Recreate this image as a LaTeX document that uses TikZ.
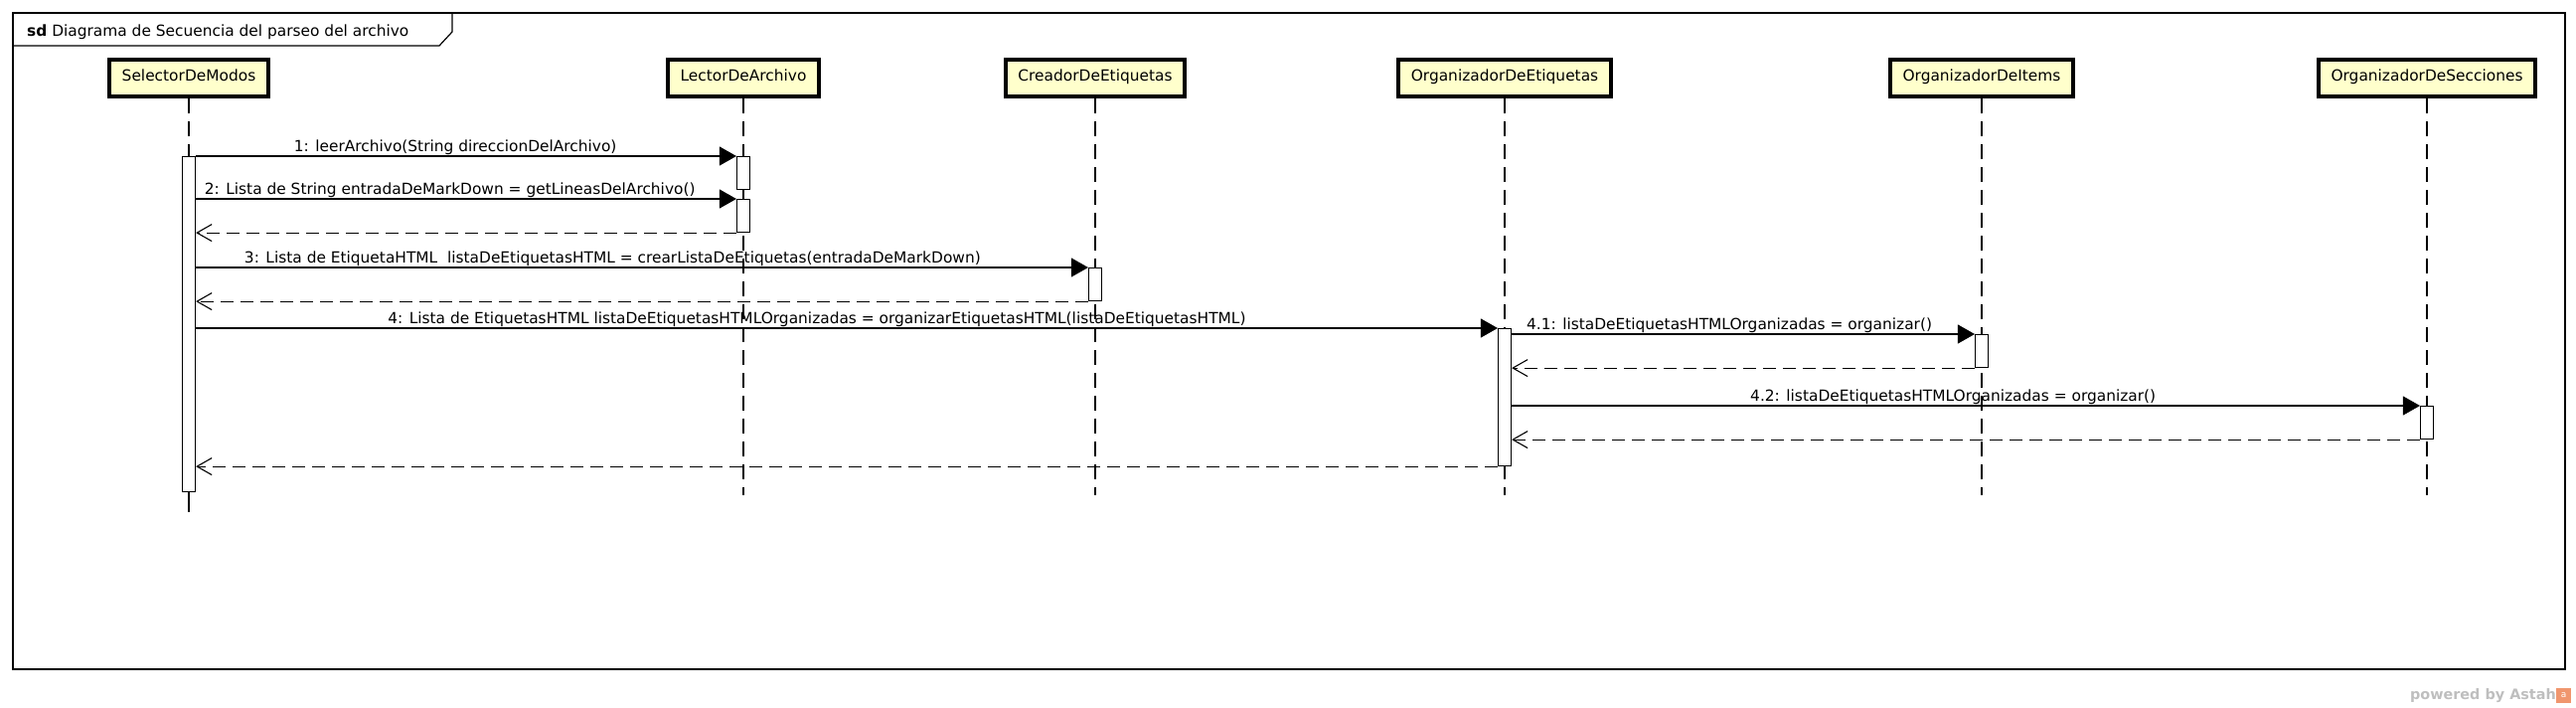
\documentclass[tikz,border=0pt]{standalone}
\usepackage{fontspec}
\setmainfont{DejaVu Sans}
\usetikzlibrary{arrows.meta}

\definecolor{headfill}{RGB}{255,255,204}
\definecolor{poweredgray}{RGB}{190,190,190}
\definecolor{astahorange}{RGB}{240,150,110}

\begin{document}
\begin{tikzpicture}[x=1pt,y=-1pt,
        every node/.style={font=\fontsize{15.4}{18}\selectfont},
        lifebox/.style={rectangle,draw,line width=4pt,fill=headfill,minimum height=37pt,inner xsep=12.5pt,text height=11pt,text depth=6pt},
        act/.style={rectangle,draw,line width=1.1pt,fill=white,minimum width=13pt,inner sep=0pt,anchor=north},
        lifeline/.style={line width=1.1pt,dash pattern=on 15pt off 8pt},
        msg/.style={line width=1.1pt,-{Triangle[length=17pt,width=19pt]}},
        ret/.style={line width=1.1pt,dash pattern=on 13pt off 7pt,-{Straight Barb[length=15pt,width=17pt]}},
        lbl/.style={anchor=base,inner sep=0pt,yshift=5pt}]
        \useasboundingbox (0,0) rectangle (2592,712);

        \draw[line width=1.5pt] (13,13) rectangle (2581,673);
        \draw[line width=1.2pt] (13,46) -- (442,46) -- (455,32) -- (455,13);
        \node[anchor=base west,inner sep=0pt] (title) at (27,36) {\textbf{sd} Diagrama de Secuencia del parseo del archivo};

        \node[lifebox] (hSel) at (190,78.5) {SelectorDeModos\hspace{11pt}};
        \node[lifebox] (hLec) at (748,78.5) {LectorDeArchivo\hspace{11pt}};
        \node[lifebox] (hCre) at (1102,78.5) {CreadorDeEtiquetas\hspace{11pt}};
        \node[lifebox] (hOrgE) at (1514,78.5) {OrganizadorDeEtiquetas\hspace{11pt}};
        \node[lifebox] (hOrgI) at (1994,78.5) {OrganizadorDeItems\hspace{11pt}};
        \node[lifebox] (hOrgS) at (2442,78.5) {OrganizadorDeSecciones\hspace{11pt}};

        \coordinate (mSel) at (190,502);
        \coordinate (eSel) at (190,515);
        \coordinate (eLec) at (748,498);
        \coordinate (eCre) at (1102,498);
        \coordinate (eOrgE) at (1514,498);
        \coordinate (eOrgI) at (1994,498);
        \coordinate (eOrgS) at (2442,498);

        \draw[lifeline] (hSel.south) -- (mSel);
        \draw[line width=1.1pt] (mSel) -- (eSel);
        \draw[lifeline] (hLec.south) -- (eLec);
        \draw[lifeline] (hCre.south) -- (eCre);
        \draw[lifeline] (hOrgE.south) -- (eOrgE);
        \draw[lifeline] (hOrgI.south) -- (eOrgI);
        \draw[lifeline] (hOrgS.south) -- (eOrgS);

        \node[act,minimum height=337pt] (aSel) at (190,157) {};
        \node[act,minimum height=33pt] (aLec1) at (748,157) {};
        \node[act,minimum height=33pt] (aLec2) at (748,200) {};
        \node[act,minimum height=33pt] (aCre) at (1102,269) {};
        \node[act,minimum height=138pt] (aOrgE) at (1514,330) {};
        \node[act,minimum height=33pt] (aOrgI) at (1994,336) {};
        \node[act,minimum height=33pt] (aOrgS) at (2442,408) {};

        \draw[msg] (aSel.east |- aLec1.north) -- node[lbl,pos=.48] {1: leerArchivo(String direccionDelArchivo)} (aLec1.north west);
        \draw[msg] (aSel.east |- aLec2.north) -- node[lbl,pos=.47] {2: Lista de String entradaDeMarkDown = getLineasDelArchivo()} (aLec2.north west);
        \draw[ret] (aLec2.south west) -- (aSel.east |- aLec2.south);
        \draw[msg] (aSel.east |- aCre.north) -- node[lbl,pos=.467] {3: Lista de EtiquetaHTML\ \ listaDeEtiquetasHTML = crearListaDeEtiquetas(entradaDeMarkDown)} (aCre.north west);
        \draw[ret] (aCre.south west) -- (aSel.east |- aCre.south);
        \draw[msg] (aSel.east |- aOrgE.north) -- node[lbl,pos=.477] {4: Lista de EtiquetasHTML listaDeEtiquetasHTMLOrganizadas = organizarEtiquetasHTML(listaDeEtiquetasHTML)} (aOrgE.north west);
        \draw[msg] (aOrgE.east |- aOrgI.north) -- node[lbl,pos=.47] {4.1: listaDeEtiquetasHTMLOrganizadas = organizar()} (aOrgI.north west);
        \draw[ret] (aOrgI.south west) -- (aOrgE.east |- aOrgI.south);
        \draw[msg] (aOrgE.east |- aOrgS.north) -- node[lbl,pos=.486] {4.2: listaDeEtiquetasHTMLOrganizadas = organizar()} (aOrgS.north west);
        \draw[ret] (aOrgS.south west) -- (aOrgE.east |- aOrgS.south);
        \draw[ret] (aOrgE.south west) -- (aSel.east |- aOrgE.south);

        \node[anchor=base east,inner sep=0pt,text=poweredgray,font=\bfseries\fontsize{14.4}{16}\selectfont] (powered) at (2572,703) {powered by Astah};
        \node[anchor=west,fill=astahorange,minimum size=15pt,inner sep=0pt,text=white,font=\fontsize{9}{9}\selectfont] (logo) at (2572,699.5) {a};

    \end{tikzpicture}
\end{document}
